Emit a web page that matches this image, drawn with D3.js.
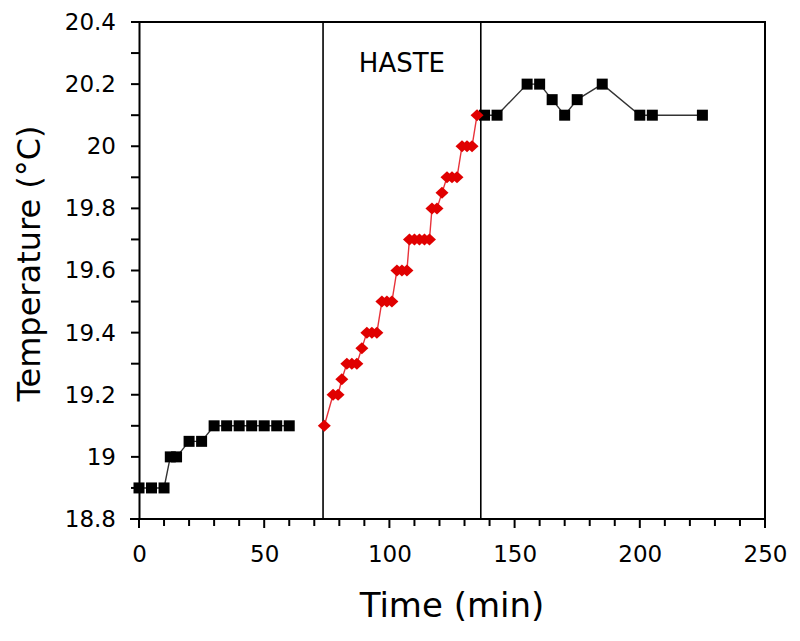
<!DOCTYPE html>
<html>
<head>
<meta charset="utf-8">
<script src="https://cdn.jsdelivr.net/npm/d3@7"></script>
<style>
  body { margin: 0; background: #fff; }
  text { font-family: "DejaVu Sans", Verdana, sans-serif; fill: #000; }
</style>
</head>
<body>
<div id="chart"></div>
<script>
// black series before HASTE
const beforeTime = [0, 5, 10, 12.5, 15, 20, 25, 30, 35, 40, 45, 50, 55, 60];
const beforeTemp = [18.9, 18.9, 18.9, 19.0, 19.0, 19.05, 19.05, 19.1, 19.1, 19.1, 19.1, 19.1, 19.1, 19.1];

// red series during HASTE
const hasteTime = [74, 77.5, 79.5, 81, 83, 85, 87, 89, 91, 93, 95, 97, 99, 101, 103, 105, 107,
                   108, 110, 112, 114, 116, 117, 119, 121, 123, 125, 127, 129, 131, 133, 135];
const hasteTemp = [19.1, 19.2, 19.2, 19.25, 19.3, 19.3, 19.3, 19.35, 19.4, 19.4, 19.4, 19.5, 19.5, 19.5,
                   19.6, 19.6, 19.6, 19.7, 19.7, 19.7, 19.7, 19.7, 19.8, 19.8, 19.85, 19.9, 19.9, 19.9,
                   20.0, 20.0, 20.0, 20.1];

// black series after HASTE
const afterTime = [138, 143, 155, 160, 165, 170, 175, 185, 200, 205, 225];
const afterTemp = [20.1, 20.1, 20.2, 20.2, 20.15, 20.1, 20.15, 20.2, 20.1, 20.1, 20.1];

// HASTE window boundaries
const hasteBounds = [73.5, 136.5];

const xTicks = [0, 50, 100, 150, 200, 250];
const yTicks = [18.8, 19, 19.2, 19.4, 19.6, 19.8, 20, 20.2, 20.4];

const margin = {top: 22, right: 35, bottom: 122, left: 139};
const width = 800 - margin.left - margin.right;
const height = 641 - margin.top - margin.bottom;

const svg = d3.select("#chart").append("svg")
    .attr("width", 800)
    .attr("height", 641)
    .append("g")
    .attr("transform", `translate(${margin.left},${margin.top})`);

const x = d3.scaleLinear().domain([0, 250]).range([0, width]);
const y = d3.scaleLinear().domain([18.8, 20.4]).range([height, 0]);

// frame top + right
svg.append("path")
    .attr("d", `M0,0H${width}V${height}`)
    .attr("fill", "none").attr("stroke", "#000").attr("stroke-width", 2);

// minor ticks
svg.append("g").selectAll("line")
    .data(d3.range(0, 251, 10))
    .join("line")
    .attr("x1", d => x(d)).attr("x2", d => x(d))
    .attr("y1", height).attr("y2", d => height + (d % 50 === 0 ? 9 : 7))
    .attr("stroke", "#000").attr("stroke-width", 2);

svg.append("g").selectAll("line")
    .data(d3.range(188, 205, 1).map(d => d / 10))
    .join("line")
    .attr("y1", d => y(d)).attr("y2", d => y(d))
    .attr("x1", 0).attr("x2", -8)
    .attr("stroke", "#000").attr("stroke-width", 2);

// axes
const xAxis = svg.append("g")
    .attr("transform", `translate(0,${height})`)
    .call(d3.axisBottom(x).tickValues(xTicks).tickSize(0).tickPadding(27));
const yAxis = svg.append("g")
    .call(d3.axisLeft(y).tickValues(yTicks).tickSize(0).tickPadding(23).tickFormat(d3.format("")));

[xAxis, yAxis].forEach(a => {
    a.select(".domain").attr("stroke", "#000").attr("stroke-width", 2);
    a.selectAll("text").style("font-size", "23px").attr("fill", "#000");
});
xAxis.select(".domain").attr("d", `M-9,0H${width}`);

// HASTE lines
svg.selectAll(".bound")
    .data(hasteBounds)
    .join("line")
    .attr("class", "bound")
    .attr("x1", d => x(d)).attr("x2", d => x(d))
    .attr("y1", 0).attr("y2", height)
    .attr("stroke", "#000").attr("stroke-width", 1.6);

svg.append("text")
    .attr("x", x(d3.mean(hasteBounds)))
    .attr("y", 50)
    .attr("text-anchor", "middle")
    .style("font-size", "26px")
    .text("HASTE");

const line = d3.line().x(d => x(d[0])).y(d => y(d[1]));

function drawSeries(times, temps, color, shape) {
    const pts = times.map((t, i) => [t, temps[i]]);
    svg.append("path")
        .datum(pts)
        .attr("d", line)
        .attr("fill", "none")
        .attr("stroke", color === "#000" ? "#333" : "#e8323a")
        .attr("stroke-width", 1.4);
    svg.append("g").selectAll("path")
        .data(pts)
        .join("path")
        .attr("transform", d => `translate(${x(d[0])},${y(d[1])})`)
        .attr("d", shape === "square" ? "M-5.5,-5.5H5.5V5.5H-5.5Z" : "M-6.5,0L0,-6L6.5,0L0,6Z")
        .attr("fill", color);
}

drawSeries(beforeTime, beforeTemp, "#000", "square");
drawSeries(afterTime, afterTemp, "#000", "square");
drawSeries(hasteTime, hasteTemp, "#e00000", "diamond");

// axis titles
svg.append("text")
    .attr("x", width / 2)
    .attr("y", height + 98)
    .attr("text-anchor", "middle")
    .style("font-size", "34px")
    .text("Time (min)");

svg.append("text")
    .attr("transform", `translate(-99,${height / 2 - 7}) rotate(-90)`)
    .attr("text-anchor", "middle")
    .style("font-size", "32px")
    .text("Temperature (°C)");
</script>
</body>
</html>
